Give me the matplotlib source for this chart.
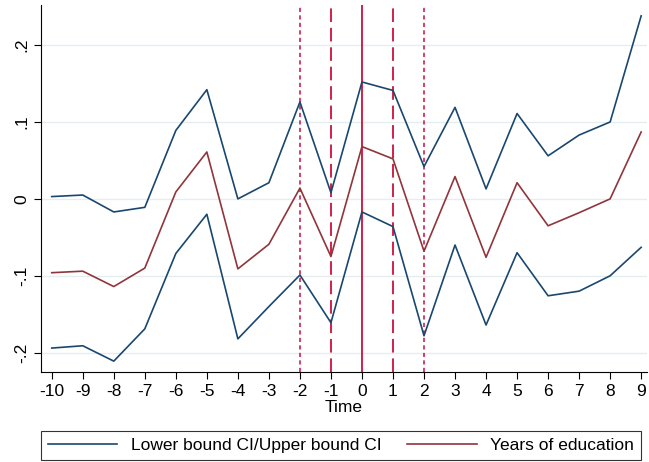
import numpy as np
import matplotlib.pyplot as plt

plt.rcParams['font.family'] = ['Liberation Sans', 'DejaVu Sans']

time = np.arange(-10, 10)
upper_ci = [0.003, 0.005, -0.017, -0.011, 0.089, 0.142, 0.000, 0.021, 0.126, 0.008,
            0.152, 0.141, 0.042, 0.119, 0.013, 0.111, 0.056, 0.083, 0.100, 0.238]
years_educ = [-0.096, -0.094, -0.114, -0.090, 0.009, 0.061, -0.091, -0.059, 0.014, -0.075,
              0.068, 0.052, -0.068, 0.029, -0.076, 0.021, -0.035, -0.018, 0.000, 0.087]
lower_ci = [-0.194, -0.191, -0.211, -0.169, -0.071, -0.020, -0.182, -0.140, -0.099, -0.161,
            -0.017, -0.036, -0.178, -0.060, -0.164, -0.070, -0.126, -0.120, -0.100, -0.063]

blue = '#1a476f'
red = '#90353b'
vcol = '#d0204a'

fig = plt.figure(figsize=(6.49, 4.62), dpi=100)
ax = fig.add_axes([0.063, 0.195, 0.934, 0.794])

for y in [-0.2, -0.1, 0, 0.1, 0.2]:
    ax.axhline(y, color='#e4eef0', lw=1, zorder=0)

# vertical reference lines
ax.axvline(-2, color=vcol, lw=1.2, ls=(0, (2.5, 2)))
ax.axvline(2, color=vcol, lw=1.2, ls=(0, (2.5, 2)))
ax.axvline(-1, color=vcol, lw=1.4, ls=(0, (7, 3)))
ax.axvline(1, color=vcol, lw=1.4, ls=(0, (7, 3)))
ax.axvline(0, color=vcol, lw=1.4)

ax.plot(time, upper_ci, color=blue, lw=1.2, label='Lower bound CI/Upper bound CI')
ax.plot(time, lower_ci, color=blue, lw=1.2)
ax.plot(time, years_educ, color=red, lw=1.2, label='Years of education')

ax.set_xlim(-10.35, 9.19)
ax.set_ylim(-0.225, 0.252)
ax.set_xticks(time)
ax.set_xticklabels([str(t) for t in time])
ax.set_yticks([-0.2, -0.1, 0, 0.1, 0.2])
ax.set_yticklabels(['-.2', '-.1', '0', '.1', '.2'], rotation=90, va='center')
ax.tick_params(labelsize=12.5, direction='out', length=5, width=0.8)
ax.spines['top'].set_visible(False)
ax.spines['right'].set_visible(False)
ax.set_xlabel('Time', fontsize=12.5, labelpad=1)

leg = fig.legend(loc='lower left', bbox_to_anchor=(0.063, 0.005, 0.925, 0.07), mode='expand',
                 ncol=2, fontsize=12.5, frameon=True, fancybox=False, edgecolor='black',
                 handlelength=4, borderaxespad=0)
leg.get_frame().set_linewidth(0.8)

fig.savefig('out.png', dpi=100)
